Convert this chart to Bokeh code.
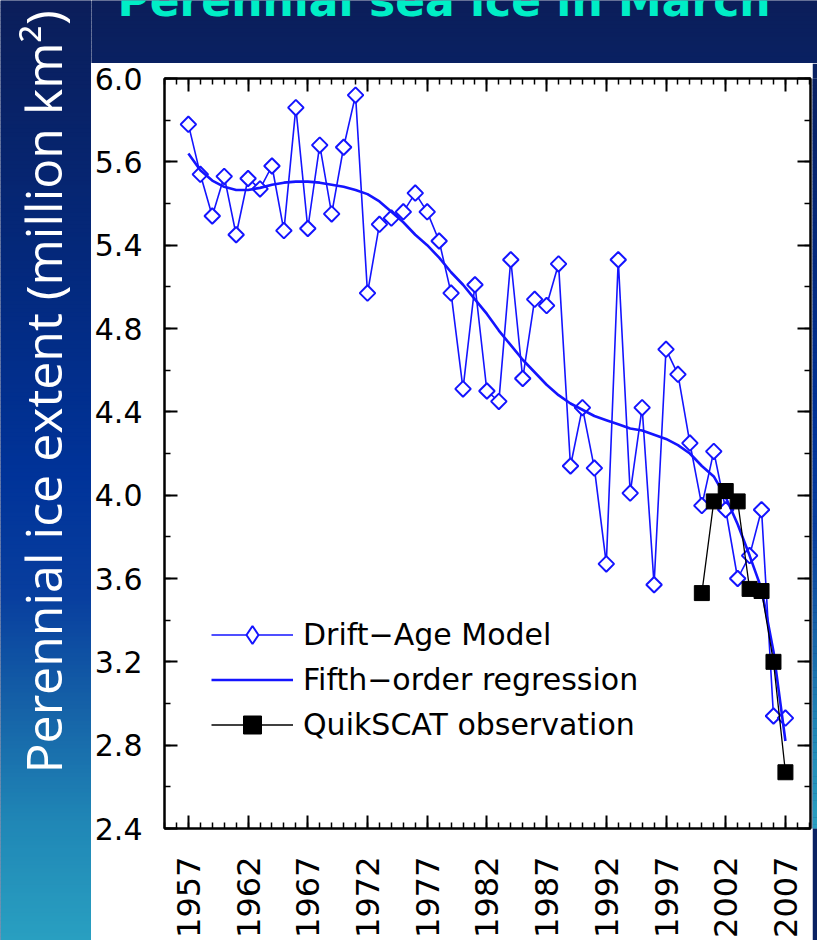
import numpy as np
from bokeh.plotting import figure
from bokeh.layouts import row, column
from bokeh.models import (FixedTicker, LinearAxis, Legend, LegendItem,
                          PrintfTickFormatter, Range1d, ColumnDataSource)
from bokeh.core.properties import value
from bokeh.embed import file_html
from bokeh.resources import INLINE

# ---------------- data ----------------
years = list(range(1957, 2008))
drift_age = [5.78, 5.54, 5.34, 5.53, 5.25, 5.52, 5.47, 5.58, 5.27, 5.86,
             5.28, 5.68, 5.35, 5.67, 5.92, 4.97, 5.30, 5.33, 5.36, 5.45,
             5.36, 5.22, 4.97, 4.51, 5.01, 4.50, 4.45, 5.13, 4.56, 4.94,
             4.91, 5.11, 4.14, 4.42, 4.13, 3.67, 5.13, 4.01, 4.42, 3.57,
             4.70, 4.58, 4.25, 3.95, 4.21, 3.93, 3.60, 3.71, 3.93, 2.94,
             2.93]
reg_years = list(range(1957, 2008))
regression = [5.64, 5.56, 5.51, 5.48, 5.465, 5.465, 5.475, 5.49, 5.50, 5.505,
              5.505, 5.50, 5.49, 5.48, 5.465, 5.445, 5.41, 5.36, 5.31, 5.25,
              5.20, 5.14, 5.07, 5.01, 4.94, 4.87, 4.79, 4.72, 4.65, 4.59,
              4.53, 4.48, 4.44, 4.41, 4.38, 4.36, 4.34, 4.32, 4.31, 4.29,
              4.27, 4.24, 4.20, 4.14, 4.09, 3.99, 3.86, 3.71, 3.55, 3.25,
              2.82]
qs_years = list(range(2000, 2008))
quikscat = [3.53, 3.97, 4.02, 3.97, 3.55, 3.54, 3.20, 2.67]

x_ticks = list(range(1957, 2008, 5))
x_minor = list(range(1955, 2010))
y_ticks = [2.4, 2.8, 3.2, 3.6, 4.0, 4.4, 4.8, 5.2, 5.6, 6.0]
y_tick_labels = ["2.4", "2.8", "3.2", "3.6", "4.0", "4.4", "4.8", "5.4", "5.6", "6.0"]
y_minor = [2.4, 2.6, 2.8, 3.0, 3.2, 3.4, 3.6, 3.8, 4.0, 4.2, 4.4, 4.6, 4.8,
           5.0, 5.2, 5.4, 5.6, 5.8, 6.0]

title_text = "Perennial sea ice in March"
y_label_text = "Perennial ice extent (million km\u00b2)"
legend_labels = ["Drift\u2212Age Model", "Fifth\u2212order regression", "QuikSCAT observation"]

# ---------------- layout constants (canvas pixels) ----------------
W, H = 817, 940
LEFT_W = 91          # blue strip holding the y-axis title
TOP_H = 63           # blue strip holding the title
RIGHT_W = 5          # thin blue strip on the right
MAIN_W = W - LEFT_W - RIGHT_W
MAIN_H = H - TOP_H
BLUE = "#1414ff"
FONT = "DejaVu Sans"

stops = [(0, (11, 30, 90)), (250, (4, 40, 122)), (480, (0, 51, 153)), (600, (8, 62, 158)),
         (720, (22, 100, 168)), (830, (32, 135, 182)), (960, (42, 162, 194))]

def grad(cy):
    ry = cy / 0.9916
    for (y0, c0), (y1, c1) in zip(stops[:-1], stops[1:]):
        if y0 <= ry <= y1:
            t = (ry - y0) / (y1 - y0)
            return "#%02x%02x%02x" % tuple(int(round(a + (b - a) * t)) for a, b in zip(c0, c1))
    return "#%02x%02x%02x" % stops[-1][1]

def strip(width, height, cy_top):
    """A bare figure filled with the vertical background gradient.
    Its data space is in pixels: x from the left, y from the bottom."""
    f = figure(width=width, height=height, x_range=Range1d(0, width), y_range=Range1d(0, height),
               x_axis_type=None, y_axis_type=None, min_border=0, toolbar_location=None,
               output_backend="svg", outline_line_color=None,
               background_fill_color=grad(cy_top), border_fill_color=grad(cy_top))
    f.grid.visible = False
    step = 4
    tops, bots, cols = [], [], []
    for y in range(0, height, step):
        tops.append(height - y)
        bots.append(height - y - step - 0.5)
        cols.append(grad(cy_top + y + step / 2))
    f.quad(left=0, right=width, top=tops, bottom=bots, fill_color=cols, line_color=None)
    return f

# left strip with the y-axis title (reads bottom to top)
L = strip(LEFT_W, H, 0)
L.text(x=[42], y=[H - 773], text=[y_label_text], angle=np.pi / 2,
       text_font=value("Open Sans"), text_font_size="50px", text_color="white",
       text_align="left", text_baseline="middle")

# top strip with the chart title, cut by the top edge as in the reference
T = strip(W - LEFT_W, TOP_H, 0)
T.text(x=[117 - LEFT_W], y=[TOP_H], text=[title_text],
       text_font=value(FONT), text_font_style="bold", text_font_size="44px",
       text_color="#00eec6", text_align="left", text_baseline="middle")

# thin right strip
R = strip(RIGHT_W, MAIN_H, TOP_H)

# ---------------- main chart ----------------
p = figure(width=MAIN_W, height=MAIN_H, x_range=Range1d(1955.0, 2009.1), y_range=Range1d(2.4, 6.0),
           output_backend="svg", toolbar_location=None,
           min_border_left=73, min_border_right=2, min_border_top=15, min_border_bottom=110,
           background_fill_color="white", border_fill_color="white",
           outline_line_color="black", outline_line_width=2)
p.grid.visible = False

def style_axis(ax):
    ax.axis_line_color = "black"
    ax.axis_line_width = 2
    ax.major_tick_line_color = "black"
    ax.major_tick_line_width = 2
    ax.minor_tick_line_color = "black"
    ax.minor_tick_line_width = 1.5
    ax.major_tick_in = 13
    ax.major_tick_out = 0
    ax.minor_tick_in = 6
    ax.minor_tick_out = 0
    ax.major_label_text_font = FONT
    ax.major_label_text_color = "black"

xax = p.xaxis[0]
xax.ticker = FixedTicker(ticks=x_ticks, minor_ticks=x_minor)
style_axis(xax)
xax.major_label_text_font_size = "32px"
xax.major_label_orientation = np.pi / 2
xax.major_label_standoff = 28

yax = p.yaxis[0]
yax.ticker = FixedTicker(ticks=y_ticks, minor_ticks=y_minor)
yax.formatter = PrintfTickFormatter(format="%.1f")
yax.major_label_overrides = dict(zip(y_ticks, y_tick_labels))
style_axis(yax)
yax.major_label_text_font_size = "30px"
yax.major_label_standoff = 22

top_ax = LinearAxis(ticker=FixedTicker(ticks=x_ticks, minor_ticks=x_minor))
style_axis(top_ax)
top_ax.major_label_overrides = {t: "" for t in x_ticks}
top_ax.major_label_text_font_size = "1px"
top_ax.major_label_standoff = 0
p.add_layout(top_ax, "above")

right_ax = LinearAxis(ticker=FixedTicker(ticks=y_ticks, minor_ticks=y_minor))
style_axis(right_ax)
right_ax.major_label_overrides = {t: "" for t in y_ticks}
right_ax.major_label_text_font_size = "1px"
right_ax.major_label_standoff = 0
p.add_layout(right_ax, "right")

src = ColumnDataSource(dict(year=years, ext=drift_age))
r_line = p.line("year", "ext", source=src, line_color=BLUE, line_width=1.6)
r_pts = p.scatter("year", "ext", source=src, marker="square", angle=np.pi / 4, size=11,
                  line_color=BLUE, line_width=2, fill_color="white")
reg_src = ColumnDataSource(dict(year=reg_years, ext=regression))
r_reg = p.line("year", "ext", source=reg_src, line_color=BLUE, line_width=2.6)
qs_src = ColumnDataSource(dict(year=qs_years, ext=quikscat))
r_qline = p.line("year", "ext", source=qs_src, line_color="black", line_width=1.3)
r_qpts = p.scatter("year", "ext", source=qs_src, marker="square", size=15,
                   fill_color="black", line_color="black")
# legend-only key for the diamonds (a NaN point, never drawn in the plot)
r_key = p.scatter(x=[np.nan], y=[np.nan], marker="diamond", size=19, line_color=BLUE,
                  line_width=2, fill_color="white")

legend = Legend(items=[LegendItem(label=legend_labels[0], renderers=[r_line, r_key]),
                       LegendItem(label=legend_labels[1], renderers=[r_reg]),
                       LegendItem(label=legend_labels[2], renderers=[r_qline, r_qpts])],
                location=(47, 81))
legend.label_text_font = FONT
legend.label_text_font_size = "30px"
legend.label_text_color = "black"
legend.glyph_width = 82
legend.glyph_height = 45
legend.label_height = 45
legend.spacing = 0
legend.padding = 0
legend.margin = 0
legend.label_standoff = 10
legend.background_fill_alpha = 0
legend.border_line_alpha = 0
p.add_layout(legend)

layout = row(L, column(T, row(p, R, spacing=0), spacing=0), spacing=0)

open("out.html", "w").write(file_html(layout, INLINE))
